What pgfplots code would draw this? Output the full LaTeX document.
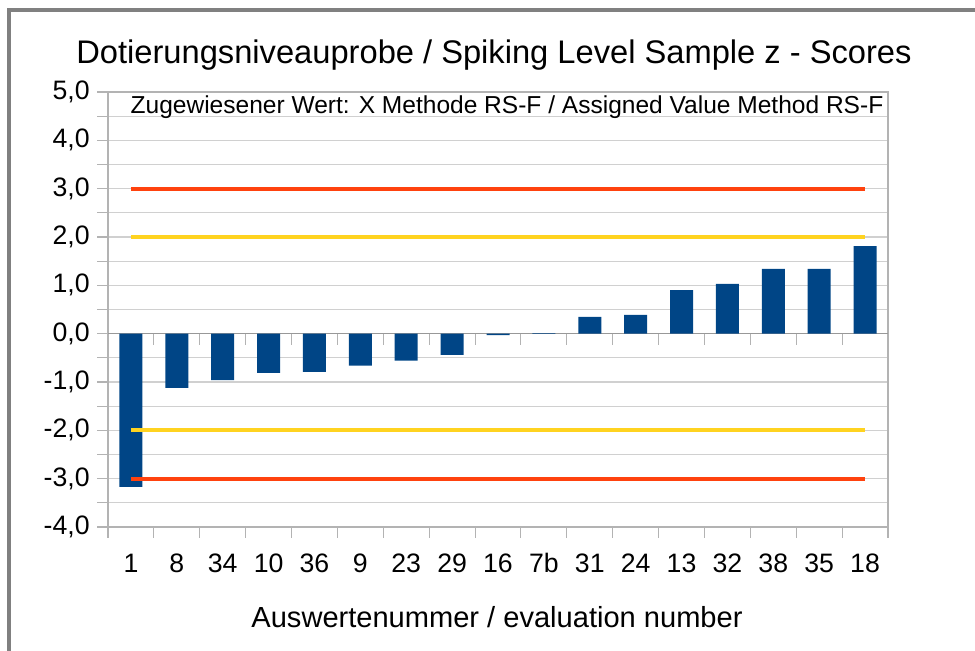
\documentclass[border=0pt]{standalone}
\usepackage{fontspec}
\setmainfont{Liberation Sans}
\usepackage{pgfplots}
\pgfplotsset{compat=1.18}
\definecolor{barblue}{HTML}{004586}
\definecolor{limred}{HTML}{FF420E}
\definecolor{limyellow}{HTML}{FFD320}
\definecolor{gridgray}{HTML}{D0D0D0}
\definecolor{axisgray}{HTML}{B3B3B3}
\definecolor{framegray}{HTML}{808080}

\begin{document}
\begin{tikzpicture}
\path[use as bounding box] (0,0) rectangle (731.25pt,487.5pt);
% outer frame of the chart (only left and top edge are inside the image)
\draw[framegray, line width=3pt] (6.75pt,-5pt) -- (6.75pt,480pt) -- (740pt,480pt);

\begin{axis}[
  at={(81pt,92.25pt)}, anchor=south west,
  scale only axis,
  width=585pt, height=326.25pt,
  xmin=0.5, xmax=17.5,
  ymin=-4, ymax=5,
  xtick={1,...,17},
  xticklabels={1,8,34,10,36,9,23,29,16,7b,31,24,13,32,38,35,18},
  minor xtick={0.5,1.5,...,17.5},
  ytick={-4,-3,...,5},
  minor ytick={-3.5,-2.5,...,4.5},
  tick align=outside,
  xtick pos=bottom, ytick pos=left,
  major x tick style={draw=none},
  minor x tick style={axisgray, line width=0.8pt},
  major tick length=8.25pt, minor tick length=8.25pt,
  y tick style={axisgray, line width=0.8pt},
  ymajorgrids, yminorgrids,
  grid style={gridgray, line width=0.8pt},
  minor grid style={gridgray, line width=0.8pt},
  axis line style={axisgray, line width=0.8pt},
  tick label style={font=\fontsize{20}{22}\selectfont, text=black},
  xticklabel style={anchor=base, yshift=-26pt},
  yticklabel style={xshift=-2pt},
  /pgf/number format/.cd, fixed, fixed zerofill, precision=1, use comma, assume math mode=true,
  /pgfplots/.cd,
  clip=false,
]
% zero line with its category ticks
\draw[axisgray!85!black, line width=0.8pt] (axis cs:0.5,0) -- (axis cs:17.5,0);
\pgfplotsinvokeforeach{1.5,2.5,3.5,4.5,5.5,6.5,7.5,8.5,9.5,10.5,11.5,12.5,13.5,14.5,15.5,16.5,17.5}{
  \draw[axisgray, line width=0.8pt] (axis cs:#1,0) -- ([yshift=-8.25pt]axis cs:#1,0);
}

\addplot[ybar, bar width=17.25pt, bar shift=0pt, fill=barblue, draw=none]
  coordinates {(1,-3.17) (2,-1.12) (3,-0.96) (4,-0.81) (5,-0.79) (6,-0.66)
               (7,-0.56) (8,-0.44) (9,-0.03) (10,0.01) (11,0.35) (12,0.39)
               (13,0.90) (14,1.03) (15,1.34) (16,1.34) (17,1.81)};

\addplot[limyellow, line width=3pt] coordinates {(1,2) (17,2)};
\addplot[limyellow, line width=3pt] coordinates {(1,-2) (17,-2)};
\addplot[limred, line width=3pt] coordinates {(1,3) (17,3)};
\addplot[limred, line width=3pt] coordinates {(1,-3) (17,-3)};
\end{axis}

\node[font=\fontsize{24.5}{28}\selectfont] at (370.5pt,446.25pt)
  {Dotierungsniveauprobe / Spiking Level Sample z - Scores};
\node[font=\fontsize{18.4}{21}\selectfont] at (380.25pt,407.25pt)
  {Zugewiesener Wert: X Methode RS-F / Assigned Value Method RS-F};
\node[font=\fontsize{21.8}{24}\selectfont] at (372.75pt,24.75pt)
  {Auswertenummer / evaluation number};
\end{tikzpicture}
\end{document}
